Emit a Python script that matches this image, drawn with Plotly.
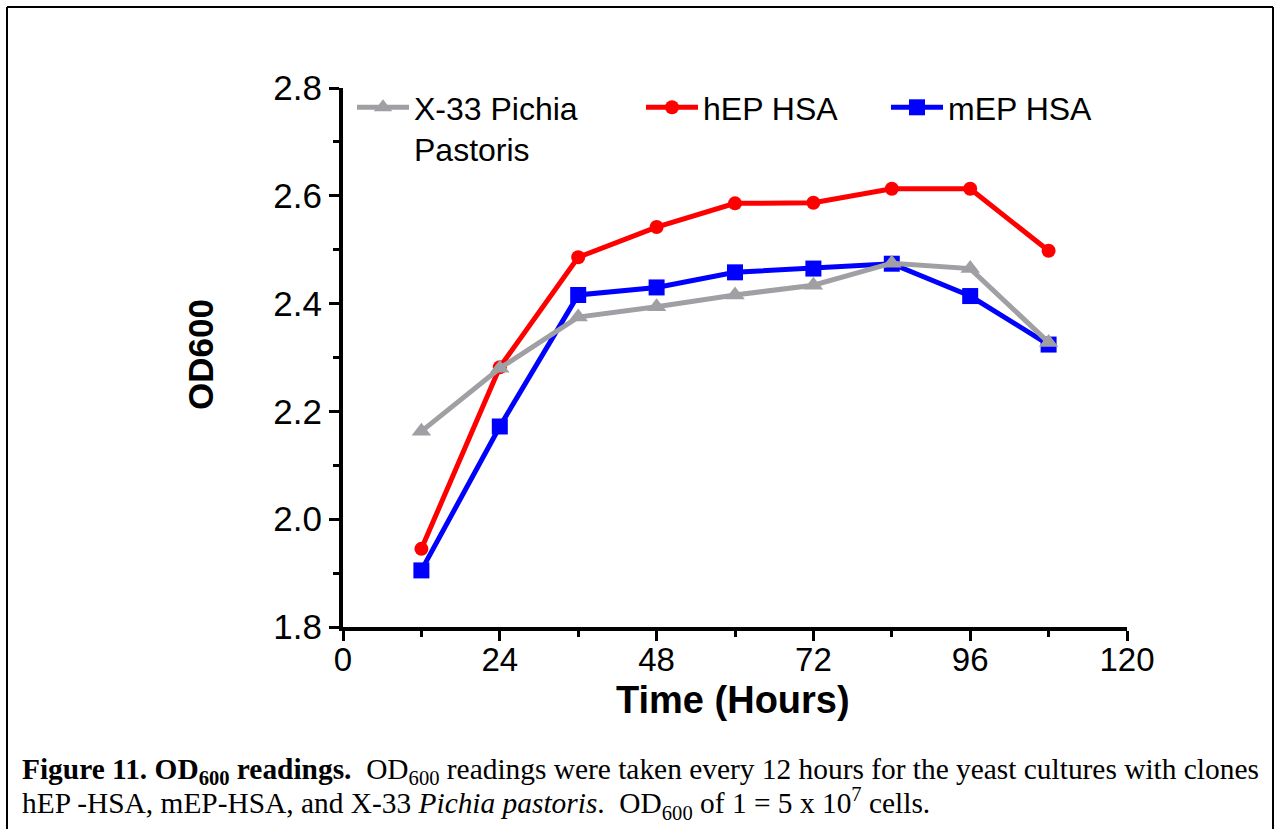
import plotly.graph_objects as go

hours = [12, 24, 36, 48, 60, 72, 84, 96, 108]
x33 = [2.163, 2.280, 2.375, 2.394, 2.416, 2.434, 2.475, 2.465, 2.328]
hep = [1.945, 2.282, 2.486, 2.542, 2.586, 2.587, 2.613, 2.613, 2.498]
mep = [1.905, 2.172, 2.416, 2.430, 2.458, 2.465, 2.474, 2.414, 2.324]

x_ticks = [0, 24, 48, 72, 96, 120]
y_ticks = [1.8, 2.0, 2.2, 2.4, 2.6, 2.8]

W, H = 1276, 829
L, R, T, B = 343, 149, 88, 202
pw, ph = W - L - R, H - T - B

def px(x):
    return (x - L) / pw

def py(y):
    return (H - B - y) / ph

fig = go.Figure()
fig.add_trace(go.Scatter(x=hours, y=hep, name="hEP HSA", mode="lines+markers",
                         line=dict(color="#FF0000", width=5),
                         marker=dict(symbol="circle", size=14, color="#FF0000"),
                         legendrank=2, legendwidth=178))
fig.add_trace(go.Scatter(x=hours, y=mep, name="mEP HSA", mode="lines+markers",
                         line=dict(color="#0000FF", width=5),
                         marker=dict(symbol="square", size=16, color="#0000FF"),
                         legendrank=3, legendwidth=170))
fig.add_trace(go.Scatter(x=hours, y=x33, name="X-33 Pichia<br>Pastoris", mode="lines+markers",
                         line=dict(color="#A0A0A4", width=5),
                         marker=dict(symbol="triangle-up", size=17, color="#A0A0A4"),
                         legendrank=1, legendwidth=222))

axis_common = dict(showgrid=False, zeroline=False, showline=True, linecolor="black",
                   linewidth=4, ticks="outside", ticklen=10, tickwidth=3, tickcolor="black")

fig.update_xaxes(range=[0, 120], tickvals=x_ticks, ticktext=[str(v) for v in x_ticks],
                 tickfont=dict(family="Liberation Sans, Arial", size=33, color="black"),
                 ticklabelstandoff=-10,
                 minor=dict(dtick=12, tick0=0, ticks="outside", ticklen=6, tickwidth=3, tickcolor="black"),
                 **axis_common)
fig.update_yaxes(range=[1.8, 2.8], tickvals=y_ticks, ticktext=[f"{v:.1f}" for v in y_ticks],
                 tickfont=dict(family="Liberation Sans, Arial", size=35, color="black"),
                 minor=dict(dtick=0.1, tick0=1.8, ticks="outside", ticklen=6, tickwidth=3, tickcolor="black"),
                 **axis_common)

annotations = [
    dict(text="<b>OD600</b>", x=px(200), y=py(355), textangle=-90,
         font=dict(family="Liberation Sans, Arial", size=35, color="black")),
    dict(text="<b>Time (Hours)</b>", x=px(733), y=py(700),
         font=dict(family="Liberation Sans, Arial", size=38, color="black")),
    dict(text="<b>Figure 11. OD<sub>600</sub> readings.</b>  OD<sub>600</sub> readings were taken every 12 hours for the yeast cultures with clones",
         x=px(20), y=py(771), xanchor="left",
         font=dict(family="Liberation Serif, Times New Roman", size=29.4, color="black")),
    dict(text="hEP -HSA, mEP-HSA, and X-33 <i>Pichia pastoris</i>.  OD<sub>600</sub> of 1 = 5 x 10<sup>7</sup> cells.",
         x=px(20), y=py(803), xanchor="left",
         font=dict(family="Liberation Serif, Times New Roman", size=29.4, color="black")),
]
for a in annotations:
    a.update(xref="paper", yref="paper", showarrow=False, yanchor=a.get("yanchor", "middle"),
             xanchor=a.get("xanchor", "center"))

shapes = [
    dict(type="line", xref="paper", yref="paper", x0=px(7), x1=px(1273), y0=py(7), y1=py(7),
         line=dict(color="black", width=2)),
    dict(type="line", xref="paper", yref="paper", x0=px(7), x1=px(7), y0=py(7), y1=py(840),
         line=dict(color="black", width=2)),
    dict(type="line", xref="paper", yref="paper", x0=px(1273), x1=px(1273), y0=py(7), y1=py(840),
         line=dict(color="black", width=2)),
]

fig.update_layout(
    width=W, height=H, autosize=False,
    margin=dict(l=L, r=R, t=T, b=B, pad=0),
    paper_bgcolor="white", plot_bgcolor="white",
    showlegend=True,
    legend=dict(orientation="h", x=px(352), y=py(80), xanchor="left", yanchor="top",
                font=dict(family="Liberation Sans, Arial", size=32, color="black"),
                itemwidth=52,
                bgcolor="rgba(0,0,0,0)", valign="top", traceorder="normal"),
    annotations=annotations, shapes=shapes,
)

fig.write_html("out.html")
